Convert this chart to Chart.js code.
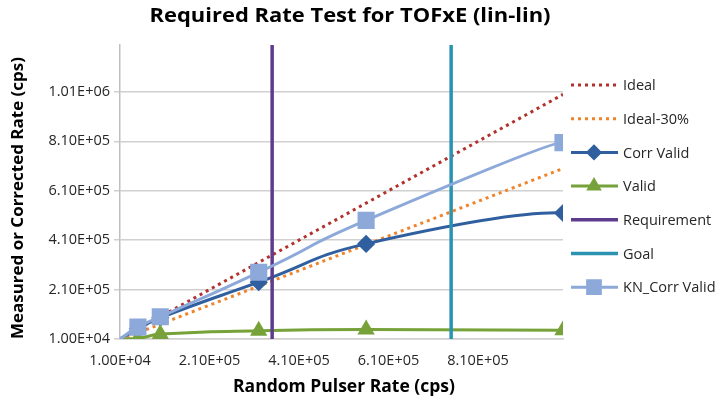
<!DOCTYPE html>
<html>
<head>
<meta charset="utf-8">
<script src="https://cdn.jsdelivr.net/npm/chart.js@4.4.1/dist/chart.umd.min.js"></script>
<style>
  html, body { margin: 0; padding: 0; background: #fff; }
  #wrap { width: 727px; height: 402px; }
</style>
</head>
<body>
<div id="wrap"><canvas id="chart"></canvas></div>
<script>
// dados
const pulserRate   = [1e4, 5e4, 1e5, 3.2e5, 5.6e5, 1e6];
const ideal        = [1e4, 5e4, 1e5, 3.2e5, 5.6e5, 1e6];
const ideal30      = [7e3, 3.5e4, 7e4, 2.24e5, 3.92e5, 7e5];
const corrValid    = [1e4, 5.2e4, 9.6e4, 2.4e5, 3.95e5, 5.2e5];
const valid        = [1e4, 1.2e4, 3e4, 4.3e4, 4.8e4, 4.5e4];
const knCorrValid  = [1e4, 5.8e4, 1e5, 2.8e5, 4.9e5, 8.05e5];
const requirementX = [3.5e5, 3.5e5];
const goalX        = [7.5e5, 7.5e5];
const verticalY    = [1e4, 1.2e6];
const xTicks = [1e4, 2.1e5, 4.1e5, 6.1e5, 8.1e5];
const yTicks = [1e4, 2.1e5, 4.1e5, 6.1e5, 8.1e5, 1.01e6];

const FONT = '"Open Sans", Lato, sans-serif';
const TXT = '#262626';

function pts(xs, ys) {
  return xs.map((x, i) => ({ x: x, y: ys[i] }));
}

// formato 1.00E+04
function sci(v) {
  const e = Math.floor(Math.log10(v) + 1e-9);
  const m = v / Math.pow(10, e);
  return m.toFixed(2) + 'E+' + String(e).padStart(2, '0');
}

const markerRadius = (r) => pulserRate.map((_, i) => i === 0 ? 0 : r);

const datasets = [
  { label: 'Ideal', data: pts(pulserRate, ideal), borderColor: '#B3312D', borderWidth: 3,
    borderDash: [3, 4], pointRadius: 0, tension: 0, order: 6 },
  { label: 'Ideal-30%', data: pts(pulserRate, ideal30), borderColor: '#F0842A', borderWidth: 3,
    borderDash: [3, 4], pointRadius: 0, tension: 0, order: 5 },
  { label: 'Corr Valid', data: pts(pulserRate, corrValid), borderColor: '#2F5F9E', backgroundColor: '#2F5F9E',
    borderWidth: 3, pointStyle: 'rectRot', pointRadius: markerRadius(7), tension: 0.5, order: 4 },
  { label: 'Valid', data: pts(pulserRate, valid), borderColor: '#77A23A', backgroundColor: '#77A23A',
    borderWidth: 3, pointStyle: 'triangle', pointRadius: markerRadius(7), tension: 0.5, order: 3 },
  { label: 'Requirement', data: pts(requirementX, verticalY), borderColor: '#5E3C8D', borderWidth: 3.5,
    pointRadius: 0, order: 2 },
  { label: 'Goal', data: pts(goalX, verticalY), borderColor: '#2A93B1', borderWidth: 3.5,
    pointRadius: 0, order: 1 },
  { label: 'KN_Corr Valid', data: pts(pulserRate, knCorrValid), borderColor: '#8DA9DA', backgroundColor: '#8DA9DA',
    borderWidth: 3, pointStyle: 'rect', pointRadius: markerRadius(10), tension: 0.65, order: 0 }
];

// ponta final das curvas suavizadas como no Excel (condição quadrática)
const smoothEnds = {
  id: 'smoothEnds',
  beforeDatasetDraw(chart, args) {
    const line = args.meta.dataset;
    if (!line || !line.options.tension) return;
    line.updateControlPoints(chart.chartArea, 'x');
    const p = line.points;
    const n = p.length;
    if (n < 3) return;
    const a = p[n - 2], b = p[n - 1];
    const t1x = 3 * (a.cp2x - a.x), t1y = 3 * (a.cp2y - a.y);
    const t2x = 2 * (b.x - a.x) - t1x, t2y = 2 * (b.y - a.y) - t1y;
    b.cp1x = b.x - t2x / 3;
    b.cp1y = b.y - t2y / 3;
  }
};

function fitText(ctx, text, x, y, width, font, angle) {
  ctx.save();
  ctx.font = font;
  const w = ctx.measureText(text).width;
  ctx.translate(x, y);
  ctx.rotate(angle || 0);
  ctx.scale(width / w, 1);
  ctx.fillText(text, 0, 0);
  ctx.restore();
}

// título, eixos e legenda desenhados à mão
const textPlugin = {
  id: 'textPlugin',
  afterDraw(chart) {
    const ctx = chart.ctx;
    ctx.save();
    ctx.fillStyle = '#000';
    ctx.textAlign = 'center';
    ctx.textBaseline = 'middle';
    fitText(ctx, 'Required Rate Test for TOFxE (lin-lin)', 350, 16, 401, 'bold 20px ' + FONT);
    fitText(ctx, 'Random Pulser Rate (cps)', 344, 387, 222, 'bold 17px ' + FONT);
    fitText(ctx, 'Measured or Corrected Rate (cps)', 18, 198, 282, 'bold 16.5px ' + FONT, -Math.PI / 2);

    // legenda
    ctx.textAlign = 'left';
    ctx.font = '14.5px ' + FONT;
    chart.data.datasets.forEach((ds, i) => {
      const y = 85 + i * 33.7;
      ctx.save();
      ctx.strokeStyle = ds.borderColor;
      ctx.lineWidth = ds.borderWidth;
      ctx.setLineDash(ds.borderDash || []);
      ctx.beginPath();
      ctx.moveTo(571, y);
      ctx.lineTo(618, y);
      ctx.stroke();
      ctx.setLineDash([]);
      if (ds.pointStyle) {
        ctx.fillStyle = ds.backgroundColor;
        ctx.strokeStyle = ds.borderColor;
        const r = ds.pointStyle === 'rect' ? 9 : 6;
        Chart.helpers.drawPoint(ctx, { pointStyle: ds.pointStyle, radius: r, rotation: 0, borderWidth: 1 }, 594, y);
      }
      ctx.restore();
      ctx.fillStyle = TXT;
      ctx.fillText(ds.label, 623, y + 1);
    });
    ctx.restore();
  }
};

new Chart(document.getElementById('chart'), {
  type: 'line',
  data: { datasets: datasets },
  options: {
    responsive: true,
    maintainAspectRatio: false,
    animation: false,
    layout: { padding: { top: 45, right: 164, bottom: 0, left: 0 } },
    plugins: { legend: { display: false }, title: { display: false }, tooltip: { enabled: false } },
    scales: {
      x: {
        type: 'linear', min: 1e4, max: 1e6,
        afterBuildTicks: (s) => { s.ticks = xTicks.map(v => ({ value: v })); },
        afterFit: (s) => { s.height = 63; },
        grid: { display: false, drawTicks: false },
        border: { display: true, color: '#D0D0D0', width: 1.5 },
        ticks: { padding: 13, color: TXT, font: { family: FONT, size: 14.5 }, maxRotation: 0, autoSkip: false,
                 callback: (v) => sci(v) }
      },
      y: {
        type: 'linear', min: 1e4, max: 1.2e6,
        afterBuildTicks: (s) => { s.ticks = yTicks.map(v => ({ value: v })); },
        afterFit: (s) => { s.width = 120; },
        grid: { color: '#D0D0D0', lineWidth: 1.5, tickLength: 6 },
        border: { display: true, color: '#BFBFBF', width: 1.5 },
        ticks: { padding: 4, color: TXT, font: { family: FONT, size: 14.5 }, autoSkip: false,
                 callback: (v) => sci(v) }
      }
    }
  },
  plugins: [smoothEnds, textPlugin]
});
</script>
</body>
</html>
